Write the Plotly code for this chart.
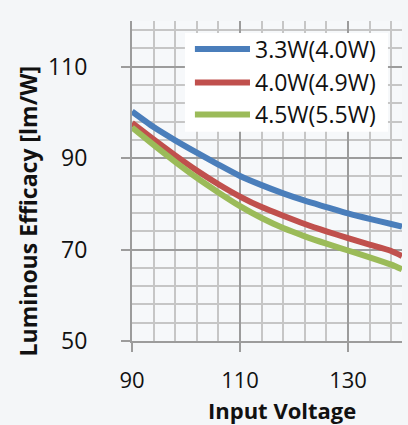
import plotly.graph_objects as go

# Input voltage (V) and luminous efficacy (lm/W) for each lamp rating
voltage = [90, 94, 98, 102, 106, 110, 114, 118, 122, 126, 130, 134, 138, 140]
eff_33w = [100.2, 96.8, 93.9, 91.2, 88.6, 86.1, 84.1, 82.3, 80.7, 79.3, 77.9, 76.7, 75.6, 75.0]
eff_40w = [97.7, 94.1, 90.6, 87.3, 84.3, 81.6, 79.3, 77.4, 75.6, 74.0, 72.5, 71.1, 69.7, 68.6]
eff_45w = [96.7, 92.9, 89.2, 85.7, 82.5, 79.5, 76.9, 74.7, 72.9, 71.3, 69.8, 68.3, 66.7, 65.7]

series_names = ["3.3W(4.0W)", "4.0W(4.9W)", "4.5W(5.5W)"]
series_values = [eff_33w, eff_40w, eff_45w]
series_colors = ["#4a7ebb", "#c0504d", "#9bbb59"]

x_ticks = [90, 110, 130]
y_ticks = [50, 70, 90, 110]

FONT = "Open Sans, DejaVu Sans, sans-serif"
TEXT = "#111111"
MAJOR = "#9c9c9c"
MINOR = "#c6c6c6"

fig = go.Figure()
for name, vals, col in zip(series_names, series_values, series_colors):
    fig.add_trace(go.Scatter(
        x=voltage, y=vals, name=name, mode="lines",
        line=dict(color=col, width=6, shape="spline", smoothing=0.6),
        showlegend=False,
    ))

axis_common = dict(
    showgrid=True, gridcolor=MAJOR, gridwidth=2,
    ticks="outside", ticklen=9, tickwidth=2, tickcolor=MAJOR,
    showline=True, linecolor=MAJOR, linewidth=2,
    zeroline=False,
)

fig.update_xaxes(
    range=[90, 140], tickmode="array", tickvals=x_ticks,
    ticktext=[str(v) for v in x_ticks],
    minor=dict(tick0=90, dtick=4, showgrid=True, gridcolor=MINOR, gridwidth=2, ticks=""),
    ticklabelstandoff=10,
    tickfont=dict(family=FONT, size=22, color=TEXT),
    **axis_common,
)
fig.update_yaxes(
    range=[50, 120], tickmode="array", tickvals=y_ticks,
    ticktext=[str(v) for v in y_ticks],
    minor=dict(tick0=50, dtick=4, showgrid=True, gridcolor=MINOR, gridwidth=2, ticks=""),
    ticklabelstandoff=29,
    tickfont=dict(family=FONT, size=23, color=TEXT),
    **axis_common,
)

# Legend panel drawn in the upper right of the plot area
box = dict(x0=0.196, x1=0.948, y0=0.654, y1=0.9625)
fig.add_shape(type="rect", xref="paper", yref="paper", layer="above",
              fillcolor="white", line=dict(width=0), **box)
legend_y = [0.9125, 0.808, 0.708]
for name, col, ly in zip(series_names, series_colors, legend_y):
    fig.add_shape(type="line", xref="paper", yref="paper", layer="above",
                  x0=0.233, x1=0.437, y0=ly, y1=ly,
                  line=dict(color=col, width=6))
    fig.add_annotation(x=0.448, y=ly, xref="paper", yref="paper",
                       text=name, showarrow=False, xanchor="left", yanchor="middle",
                       font=dict(family=FONT, size=23, color=TEXT))

# Axis titles
fig.add_annotation(x=0.556, y=-0.2156, xref="paper", yref="paper",
                   text="<b>Input Voltage</b>", showarrow=False,
                   xanchor="center", yanchor="middle",
                   font=dict(family=FONT, size=22, color=TEXT))
fig.add_annotation(x=-0.385, y=0.405, xref="paper", yref="paper",
                   text="<b>Luminous Efficacy [lm/W]</b>", showarrow=False,
                   textangle=-90, xanchor="center", yanchor="middle",
                   font=dict(family=FONT, size=23, color=TEXT))

fig.update_layout(
    width=408, height=425,
    margin=dict(l=132, r=6, t=21, b=84),
    paper_bgcolor="#f4f6f8",
    plot_bgcolor="#f6f8fa",
    showlegend=False,
)

fig.write_html("out.html")
